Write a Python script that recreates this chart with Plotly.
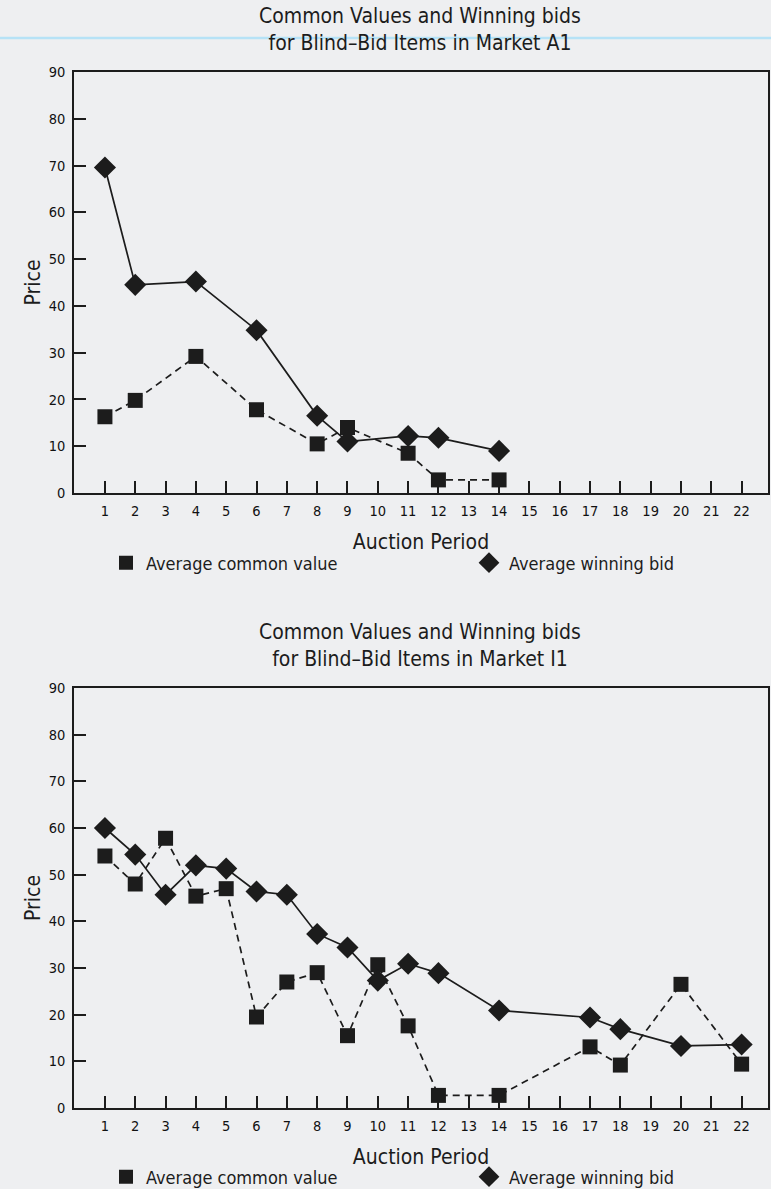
import plotly.graph_objects as go

# ---- data -------------------------------------------------------------
a1_cv_period = [1, 2, 4, 6, 8, 9, 11, 12, 14]
a1_cv_value = [16.3, 19.8, 29.2, 17.8, 10.5, 14.0, 8.5, 2.8, 2.8]
a1_wb_period = [1, 2, 4, 6, 8, 9, 11, 12, 14]
a1_wb_value = [69.6, 44.5, 45.2, 34.8, 16.5, 11.0, 12.2, 11.8, 9.0]

i1_cv_period = [1, 2, 3, 4, 5, 6, 7, 8, 9, 10, 11, 12, 14, 17, 18, 20, 22]
i1_cv_value = [54.0, 48.0, 57.8, 45.4, 47.0, 19.5, 27.0, 29.0, 15.5, 30.7,
               17.6, 2.7, 2.7, 13.1, 9.2, 26.5, 9.4]
i1_wb_period = [1, 2, 3, 4, 5, 6, 7, 8, 9, 10, 11, 12, 14, 17, 18, 20, 22]
i1_wb_value = [60.0, 54.3, 45.7, 52.0, 51.3, 46.4, 45.7, 37.3, 34.4, 27.3,
               30.9, 28.9, 20.9, 19.4, 16.9, 13.3, 13.6]

period_ticks = list(range(1, 23))
price_ticks = list(range(0, 91, 10))

titles = ["Common Values and Winning bids<br>for Blind\u2013Bid Items in Market A1",
          "Common Values and Winning bids<br>for Blind\u2013Bid Items in Market I1"]
cv_name = "Average common value"
wb_name = "Average winning bid"

# ---- style ------------------------------------------------------------
W, H = 771, 1189
BG = "#eeeff1"
INK = "#1c1c1c"
FONT = "DejaVu Sans Condensed, Liberation Sans Narrow, Arial Narrow, sans-serif"

X0, X1 = 74, 768                  # plot box, pixels from left
boxes = [(72, 493), (688, 1108)]  # (top, bottom) pixels from top
legend_rows = [563, 1177]         # legend centre line, pixels from top
xr = [-0.02, 22.87]


def py(v):
    return 1 - v / H


fig = go.Figure()

panels = [
    (a1_cv_period, a1_cv_value, a1_wb_period, a1_wb_value),
    (i1_cv_period, i1_cv_value, i1_wb_period, i1_wb_value),
]

legend_ids = [("legend", "legend2"), ("legend3", "legend4")]

for k, (cvx, cvy, wbx, wby) in enumerate(panels):
    sfx = "" if k == 0 else "2"
    leg_cv, leg_wb = legend_ids[k]
    fig.add_trace(go.Scatter(
        x=cvx, y=cvy, mode="lines+markers", xaxis="x" + sfx, yaxis="y" + sfx,
        line=dict(color=INK, width=1.7, dash="7px,5px"),
        marker=dict(symbol="square", size=15, color=INK),
        showlegend=False, cliponaxis=False))
    fig.add_trace(go.Scatter(
        x=wbx, y=wby, mode="lines+markers", xaxis="x" + sfx, yaxis="y" + sfx,
        line=dict(color=INK, width=1.7),
        marker=dict(symbol="diamond", size=17, color=INK),
        showlegend=False, cliponaxis=False))
    # legend entries (marker only)
    fig.add_trace(go.Scatter(
        x=[None], y=[None], mode="markers", name=cv_name, legend=leg_cv,
        xaxis="x" + sfx, yaxis="y" + sfx,
        marker=dict(symbol="square", size=14, color=INK)))
    fig.add_trace(go.Scatter(
        x=[None], y=[None], mode="markers", name=wb_name, legend=leg_wb,
        xaxis="x" + sfx, yaxis="y" + sfx,
        marker=dict(symbol="diamond", size=16, color=INK)))

axis_common = dict(showline=True, linecolor=INK, linewidth=1.7, mirror=True,
                   showgrid=False, zeroline=False, ticks="inside", ticklen=12,
                   tickwidth=1.7, tickcolor=INK, automargin=False)

layout = dict(
    width=W, height=H,
    margin=dict(l=0, r=0, t=0, b=0, autoexpand=False),
    paper_bgcolor=BG, plot_bgcolor=BG,
    font=dict(family=FONT, color=INK),
)

annotations = []
for k, (top, bot) in enumerate(boxes):
    sfx = "" if k == 0 else "2"
    layout["xaxis" + sfx] = dict(
        axis_common, domain=[X0 / W, X1 / W], range=xr,
        tickvals=period_ticks, ticklabelstandoff=4,
        tickfont=dict(size=14.5, family=FONT, color="#111111"),
        anchor="y" + sfx,
        title=dict(text="Auction Period", font=dict(size=21, family=FONT),
                   standoff=16))
    layout["yaxis" + sfx] = dict(
        axis_common, domain=[py(bot), py(top)], range=[0, 90],
        tickvals=price_ticks, ticklabelstandoff=4,
        tickfont=dict(size=14.5, family=FONT, color="#111111"),
        anchor="x" + sfx,
        title=dict(text="Price", font=dict(size=21, family=FONT), standoff=2))
    annotations.append(dict(
        text=titles[k], xref="paper", yref="paper", x=420 / W,
        y=py(top - 15), xanchor="center", yanchor="bottom", showarrow=False,
        font=dict(size=21, family=FONT, color=INK), align="center"))

layout["annotations"] = annotations

legend_common = dict(orientation="h", xanchor="left", yanchor="middle",
                     bgcolor="rgba(0,0,0,0)",
                     font=dict(size=18, family=FONT, color=INK),
                     itemwidth=30)
for k, row in enumerate(legend_rows):
    leg_cv, leg_wb = legend_ids[k]
    layout[leg_cv] = dict(legend_common, x=106 / W, y=py(row))
    layout[leg_wb] = dict(legend_common, x=469 / W, y=py(row))

# faint cyan streak across the top of the page
layout["shapes"] = [dict(type="line", xref="paper", yref="paper", x0=0, x1=1,
                         y0=py(38), y1=py(38),
                         line=dict(color="#b6e2f6", width=2.5), layer="below")]

fig.update_layout(**layout)
fig.write_html("out.html")
